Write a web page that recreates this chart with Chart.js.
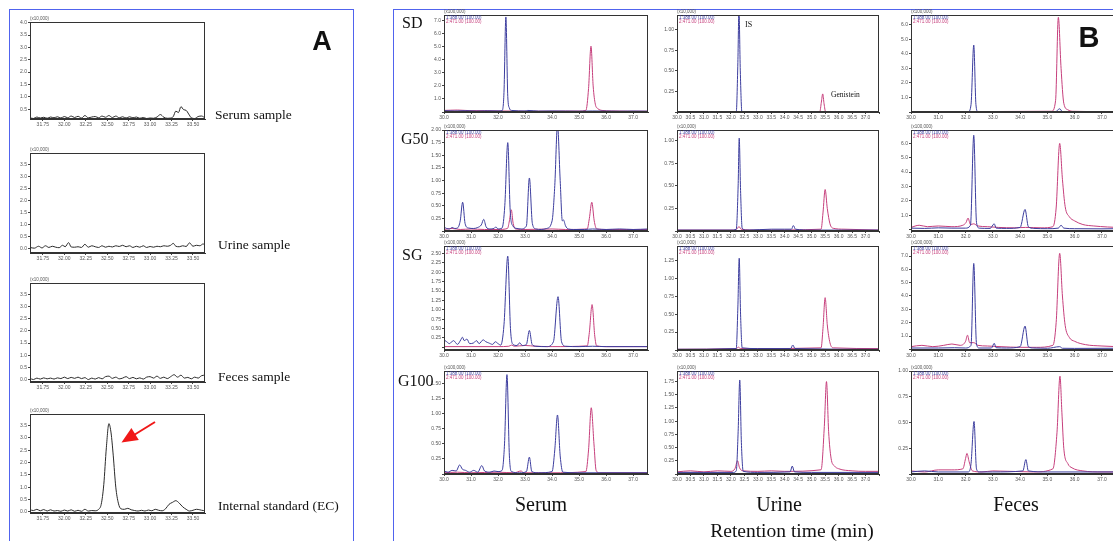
<!DOCTYPE html>
<html>
<head>
<meta charset="utf-8">
<script src="https://cdn.jsdelivr.net/npm/chart.js@4.4.0/dist/chart.umd.min.js"></script>
<style>
html, body { margin: 0; padding: 0; background: #fff; overflow: hidden; }
#wrap { position: relative; width: 1113px; height: 541px; overflow: hidden; }
#wrap canvas { position: absolute; }
.panel { position: absolute; border: 1.5px solid #5063ee; }
#notes { position: absolute; left: 0; top: 0; z-index: 5; }
</style>
</head>
<body>
<div id="wrap">
  <div class="panel" style="left:9px;top:9px;width:343px;height:600px"></div>
  <div class="panel" style="left:393px;top:9px;width:800px;height:600px"></div>
  <svg id="notes" width="1113" height="541"></svg>
</div>
<script>
// ---- panel A : blank matrices and internal standard (x10,000), time 31.60-33.64 min
var aLabels = ["Serum sample", "Urine sample", "Feces sample", "Internal standard (EC)"];
var aSerum = [[31.60,0.15],[31.64,0.12],[31.68,0.18],[31.72,0.14],[31.76,0.17],[31.80,0.13],[31.84,0.18],[31.88,0.15],[31.92,0.19],[31.96,0.14],[32.00,0.2],[32.04,0.15],[32.08,0.22],[32.12,0.16],[32.16,0.21],[32.20,0.14],[32.24,0.24],[32.28,0.15],[32.32,0.18],[32.36,0.2],[32.40,0.15],[32.44,0.22],[32.48,0.17],[32.52,0.24],[32.56,0.16],[32.60,0.22],[32.64,0.15],[32.68,0.19],[32.72,0.14],[32.76,0.19],[32.80,0.15],[32.84,0.18],[32.88,0.13],[32.92,0.16],[32.96,0.12],[33.00,0.14],[33.04,0.13],[33.08,0.18],[33.12,0.28],[33.16,0.17],[33.20,0.13],[33.24,0.14],[33.27,0.2],[33.30,0.42],[33.33,0.36],[33.36,0.6],[33.39,0.48],[33.42,0.45],[33.45,0.3],[33.48,0.15],[33.52,0.12],[33.56,0.2],[33.60,0.22],[33.64,0.14]];
var aUrine = [[31.60,0.05],[31.65,0.02],[31.70,0.1],[31.74,0.03],[31.78,0.12],[31.82,0.05],[31.86,0.1],[31.90,0.06],[31.94,0.04],[31.98,0.14],[32.01,0.08],[32.05,0.25],[32.08,0.07],[32.12,0.06],[32.16,0.08],[32.20,0.05],[32.24,0.18],[32.28,0.06],[32.32,0.12],[32.36,0.08],[32.40,0.05],[32.44,0.12],[32.48,0.06],[32.52,0.1],[32.56,0.07],[32.60,0.12],[32.64,0.09],[32.68,0.14],[32.72,0.08],[32.76,0.12],[32.80,0.05],[32.84,0.1],[32.88,0.06],[32.92,0.12],[32.96,0.05],[33.00,0.09],[33.04,0.06],[33.08,0.1],[33.12,0.08],[33.16,0.12],[33.20,0.1],[33.24,0.14],[33.27,0.22],[33.30,0.1],[33.34,0.08],[33.38,0.12],[33.42,0.09],[33.46,0.24],[33.50,0.1],[33.54,0.14],[33.58,0.12],[33.62,0.2],[33.64,0.12]];
var aFeces = [[31.60,0.05],[31.64,0.0],[31.68,0.06],[31.72,0.02],[31.76,0.07],[31.80,0.03],[31.84,0.06],[31.88,0.02],[31.92,0.07],[31.96,0.04],[32.00,0.1],[32.04,0.04],[32.08,0.09],[32.12,0.05],[32.16,0.1],[32.20,0.04],[32.24,0.08],[32.28,0.0],[32.32,0.06],[32.36,0.02],[32.40,0.08],[32.44,0.03],[32.48,0.12],[32.52,0.14],[32.56,0.05],[32.60,0.1],[32.64,0.03],[32.68,0.06],[32.72,0.12],[32.76,0.04],[32.80,0.09],[32.84,0.03],[32.88,0.07],[32.92,0.02],[32.96,0.1],[33.00,0.12],[33.04,0.06],[33.08,0.14],[33.12,0.05],[33.16,0.1],[33.20,0.04],[33.24,0.12],[33.28,0.2],[33.32,0.1],[33.36,0.18],[33.40,0.06],[33.44,0.09],[33.48,0.03],[33.52,0.1],[33.56,0.06],[33.60,0.16],[33.64,0.18]];
var aEC = [[31.60,0.08],[31.64,0.05],[31.68,0.1],[31.72,0.04],[31.76,0.09],[31.80,0.03],[31.84,0.08],[31.88,0.03],[31.92,0.05],[31.96,0.02],[32.00,0.07],[32.04,0.03],[32.08,0.08],[32.12,0.02],[32.16,0.06],[32.20,0.02],[32.24,0.1],[32.28,0.03],[32.32,0.05],[32.36,0.04],[32.40,0.1],[32.43,0.3],[32.46,1.1],[32.49,2.6],[32.52,3.58],[32.545,3.2],[32.57,2.3],[32.60,1.0],[32.63,0.35],[32.66,0.12],[32.70,0.1],[32.74,0.14],[32.78,0.08],[32.82,0.05],[32.86,0.03],[32.90,0.06],[32.94,0.03],[32.98,0.07],[33.02,0.04],[33.06,0.1],[33.10,0.06],[33.14,0.04],[33.18,0.12],[33.22,0.3],[33.26,0.38],[33.30,0.45],[33.34,0.35],[33.38,0.2],[33.42,0.1],[33.46,0.03],[33.50,0.06],[33.54,0.1],[33.58,0.08],[33.62,0.05],[33.64,0.06]];
var aYMin = [0.1, -0.18, -0.1, -0.05];
var aYMax = [4.03, 3.97, 3.97, 3.97];

// ---- panel B : groups x matrices, ion 1 (blue, IS) and ion 2 (pink, genistein), x100,000
var groups = ["SD", "G50", "SG", "G100"];
var matrices = ["Serum", "Urine", "Feces"];
var ionLegend = ["1:388.00 (100.00)", "2:471.00 (100.00)"];

var serumSD_1 = [[30.0,0.1],[30.4,0.08],[30.8,0.1],[31.2,0.07],[31.6,0.09],[32.0,0.08],[32.15,0.1],[32.22,1.5],[32.29,7.28],[32.36,1.2],[32.42,0.3],[32.5,0.12],[33.0,0.08],[33.1,0.12],[33.5,0.07],[34.0,0.08],[34.5,0.07],[35.0,0.06],[35.5,0.08],[36.0,0.07],[36.5,0.06],[37.0,0.07],[37.55,0.06]];
var serumSD_2 = [[30.0,0.12],[30.5,0.15],[31.0,0.1],[31.5,0.1],[32.0,0.08],[32.5,0.07],[33.0,0.06],[33.5,0.06],[34.0,0.06],[34.5,0.07],[35.0,0.07],[35.25,0.12],[35.35,1.8],[35.44,5.04],[35.52,2.0],[35.6,0.6],[35.7,0.25],[35.85,0.12],[36.2,0.08],[36.8,0.06],[37.55,0.06]];
var urineSD_1 = [[30.0,0],[32.2,0],[32.26,0.6],[32.3,1.25],[32.35,0.5],[32.41,0],[37.5,0]];
var urineSD_2 = [[30.0,0],[35.3,0],[35.36,0.12],[35.41,0.22],[35.46,0.1],[35.52,0],[37.5,0]];
var fecesSD_1 = [[30.0,0.03],[31.0,0.03],[32.1,0.03],[32.2,0.5],[32.3,4.6],[32.38,0.5],[32.45,0.03],[33.0,0.03],[35.3,0.03],[35.45,0.22],[35.55,0.03],[37.55,0.03]];
var fecesSD_2 = [[30.0,0.02],[35.15,0.05],[35.3,0.8],[35.4,6.5],[35.5,3.0],[35.6,0.6],[35.75,0.15],[35.9,0.05],[37.55,0.02]];

var serumG50_1 = [[30.0,0.08],[30.1,0.05],[30.2,0.04],[30.3,0.07],[30.4,0.05],[30.5,0.06],[30.6,0.2],[30.69,0.57],[30.78,0.15],[30.9,0.06],[31.1,0.05],[31.25,0.07],[31.38,0.12],[31.47,0.23],[31.56,0.08],[31.7,0.04],[31.85,0.05],[31.92,0.08],[32.0,0.04],[32.15,0.06],[32.25,0.5],[32.36,1.75],[32.45,0.4],[32.55,0.1],[32.7,0.05],[32.85,0.04],[33.05,0.1],[33.16,1.05],[33.27,0.15],[33.4,0.04],[33.6,0.03],[33.8,0.05],[34.0,0.2],[34.1,0.9],[34.2,2.1],[34.3,1.0],[34.38,0.2],[34.42,0.22],[34.5,0.1],[34.6,0.04],[34.8,0.03],[35.2,0.03],[35.5,0.04],[36.0,0.03],[36.5,0.04],[37.0,0.03],[37.55,0.04]];
var serumG50_2 = [[30.0,0.03],[30.3,0.05],[30.6,0.03],[31.0,0.04],[31.5,0.03],[32.0,0.03],[32.35,0.05],[32.42,0.2],[32.49,0.42],[32.56,0.15],[32.65,0.04],[33.0,0.03],[34.0,0.04],[34.5,0.03],[35.3,0.04],[35.38,0.25],[35.47,0.57],[35.56,0.2],[35.65,0.04],[36.0,0.03],[37.55,0.03]];
var urineG50_1 = [[30.0,0.01],[31.0,0.01],[32.0,0.01],[32.2,0.02],[32.27,0.5],[32.31,1.03],[32.36,0.45],[32.42,0.03],[32.6,0.01],[33.5,0.02],[34.0,0.02],[34.25,0.02],[34.32,0.06],[34.4,0.02],[35.0,0.01],[36.0,0.01],[37.5,0.01]];
var urineG50_2 = [[30.0,0.01],[32.1,0.01],[32.25,0.03],[32.3,0.05],[32.38,0.02],[33.0,0.01],[35.35,0.02],[35.42,0.2],[35.5,0.46],[35.58,0.25],[35.68,0.08],[35.8,0.03],[36.2,0.02],[37.5,0.01]];
var fecesG50_1 = [[30.0,0.1],[30.5,0.08],[31.0,0.12],[31.5,0.1],[32.0,0.1],[32.18,0.3],[32.3,6.56],[32.4,0.5],[32.5,0.1],[32.9,0.08],[33.05,0.4],[33.12,0.1],[33.5,0.08],[34.0,0.15],[34.18,1.4],[34.3,0.2],[34.5,0.08],[35.0,0.06],[35.4,0.1],[35.5,0.3],[35.6,0.1],[36.0,0.06],[37.0,0.05],[37.55,0.06]];
var fecesG50_2 = [[30.0,0.15],[30.3,0.3],[30.6,0.2],[31.0,0.25],[31.5,0.2],[31.9,0.3],[32.02,0.5],[32.09,0.8],[32.18,0.35],[32.3,0.4],[32.45,0.25],[32.8,0.2],[33.2,0.15],[33.8,0.12],[34.2,0.15],[34.8,0.12],[35.2,0.2],[35.32,1.5],[35.45,6.0],[35.55,3.5],[35.65,1.6],[35.8,0.9],[36.0,0.6],[36.3,0.35],[36.7,0.25],[37.2,0.18],[37.55,0.15]];

var serumSG_1 = [[30.0,0.2],[30.1,0.15],[30.2,0.1],[30.35,0.18],[30.5,0.08],[30.62,0.2],[30.68,0.27],[30.75,0.18],[30.85,0.22],[30.95,0.1],[31.1,0.12],[31.2,0.18],[31.3,0.1],[31.45,0.2],[31.55,0.15],[31.65,0.12],[31.8,0.08],[31.9,0.15],[32.0,0.1],[32.1,0.06],[32.22,0.6],[32.36,2.43],[32.46,0.5],[32.55,0.08],[32.7,0.05],[32.8,0.12],[32.9,0.05],[33.05,0.08],[33.16,0.45],[33.26,0.08],[33.4,0.03],[33.8,0.02],[34.05,0.15],[34.22,1.35],[34.35,0.15],[34.5,0.03],[35.0,0.02],[35.5,0.03],[36.0,0.02],[37.0,0.02],[37.55,0.02]];
var serumSG_2 = [[30.0,0.02],[31.0,0.02],[32.0,0.02],[32.4,0.03],[32.5,0.06],[32.6,0.03],[33.0,0.05],[33.4,0.03],[34.0,0.02],[35.3,0.04],[35.38,0.4],[35.48,1.14],[35.58,0.3],[35.65,0.04],[36.0,0.02],[37.55,0.02]];
var urineSG_1 = [[30.0,0.01],[32.2,0.02],[32.26,0.6],[32.31,1.28],[32.36,0.5],[32.42,0.03],[33.0,0.02],[34.22,0.02],[34.3,0.07],[34.38,0.02],[37.5,0.01]];
var urineSG_2 = [[30.0,0.01],[32.2,0.02],[32.28,0.04],[32.35,0.02],[33.0,0.02],[35.35,0.03],[35.42,0.3],[35.5,0.73],[35.58,0.35],[35.68,0.1],[35.8,0.03],[37.5,0.02]];
var fecesSG_1 = [[30.0,0.1],[31.0,0.1],[31.6,0.12],[32.0,0.1],[32.2,0.3],[32.3,6.44],[32.4,0.4],[32.5,0.1],[32.95,0.1],[33.05,0.45],[33.12,0.12],[33.5,0.1],[34.0,0.2],[34.18,1.74],[34.3,0.2],[34.5,0.1],[35.0,0.08],[35.45,0.2],[35.55,0.08],[36.0,0.07],[37.55,0.08]];
var fecesSG_2 = [[30.0,0.2],[30.4,0.3],[30.8,0.2],[31.2,0.3],[31.5,0.4],[31.8,0.3],[32.0,0.6],[32.07,1.06],[32.15,0.5],[32.3,0.5],[32.45,0.3],[32.8,0.25],[33.3,0.2],[34.0,0.15],[34.6,0.15],[35.2,0.3],[35.32,2.0],[35.45,7.2],[35.55,4.0],[35.65,1.8],[35.8,0.9],[36.0,0.6],[36.4,0.35],[37.0,0.25],[37.55,0.2]];

var serumG100_1 = [[30.0,0.05],[30.15,0.03],[30.3,0.06],[30.45,0.05],[30.58,0.15],[30.68,0.08],[30.8,0.06],[30.95,0.03],[31.1,0.06],[31.25,0.03],[31.4,0.14],[31.5,0.05],[31.7,0.03],[31.85,0.05],[32.0,0.04],[32.15,0.06],[32.24,0.5],[32.33,1.65],[32.42,0.3],[32.5,0.04],[32.8,0.02],[33.05,0.04],[33.16,0.28],[33.25,0.04],[33.5,0.02],[34.0,0.04],[34.1,0.4],[34.2,0.98],[34.3,0.3],[34.4,0.03],[35.0,0.02],[36.0,0.02],[37.55,0.02]];
var serumG100_2 = [[30.0,0.02],[30.5,0.03],[31.0,0.02],[32.0,0.03],[32.6,0.02],[32.85,0.05],[32.95,0.02],[34.0,0.02],[35.25,0.04],[35.35,0.4],[35.45,1.1],[35.55,0.5],[35.63,0.06],[35.75,0.02],[37.55,0.02]];
var urineG100_1 = [[30.0,0.03],[31.0,0.03],[32.1,0.03],[32.2,0.06],[32.27,0.8],[32.33,1.78],[32.39,0.6],[32.46,0.05],[33.0,0.03],[34.2,0.04],[34.28,0.15],[34.36,0.04],[35.0,0.03],[37.5,0.03]];
var urineG100_2 = [[30.0,0.04],[30.5,0.06],[31.0,0.04],[31.5,0.06],[32.0,0.05],[32.15,0.1],[32.25,0.25],[32.32,0.12],[32.45,0.06],[33.0,0.05],[33.5,0.06],[34.0,0.05],[35.35,0.08],[35.47,0.9],[35.55,1.75],[35.63,0.8],[35.72,0.3],[35.85,0.15],[36.0,0.1],[36.5,0.06],[37.0,0.05],[37.5,0.05]];
var fecesG100_1 = [[30.0,0.02],[30.5,0.03],[31.0,0.02],[32.1,0.02],[32.2,0.1],[32.31,0.51],[32.4,0.05],[32.5,0.02],[33.0,0.02],[34.1,0.03],[34.21,0.14],[34.3,0.03],[35.0,0.02],[37.55,0.02]];
var fecesG100_2 = [[30.0,0.03],[30.5,0.02],[31.0,0.04],[31.5,0.04],[31.9,0.05],[32.0,0.15],[32.05,0.2],[32.13,0.12],[32.25,0.03],[32.6,0.02],[33.0,0.03],[34.5,0.02],[35.2,0.05],[35.35,0.4],[35.46,0.95],[35.53,0.6],[35.6,0.25],[35.75,0.1],[35.9,0.06],[36.3,0.03],[37.0,0.02],[37.55,0.02]];

var bYMin = [[0, 0, 0], [0, 0, -0.1], [-0.07, 0, -0.05], [0, 0, 0]];
var bYMax = [[7.43, 1.18, 6.66], [2.0, 1.12, 6.93], [2.7, 1.45, 7.75], [1.71, 1.95, 1.0]];
var bYStep = [[1, 0.25, 1], [0.25, 0.25, 1], [0.25, 0.25, 1], [0.25, 0.25, 0.25]];

var BLUE = "#3c3d9e", PINK = "#c63f7c", BLACK = "#2a2a2a";
var wrap = document.getElementById("wrap");

var framePlugin = {
  id: "frame",
  afterDatasetsDraw: function (chart, args, o) {
    var ctx = chart.ctx, a = chart.chartArea;
    ctx.save();
    ctx.strokeStyle = "#333";
    ctx.lineWidth = 1;
    ctx.strokeRect(a.left + 0.5, a.top + 0.5, a.right - a.left - 1, a.bottom - a.top - 1);
    ctx.font = '4.5px "Liberation Sans"';
    ctx.textBaseline = "bottom";
    ctx.fillStyle = "#555";
    ctx.fillText(o.unit, a.left, a.top - 0.5);
    (o.lines || []).forEach(function (l, i) {
      ctx.fillStyle = l[1];
      ctx.fillText(l[0], a.left + 2, a.top + 5 + i * 3.6);
    });
    ctx.restore();
  }
};

// box = plot area [left, top, right, bottom] in page pixels
function addChart(box, xr, xStep, xDec, yr, yStep, yDec, sets, extra) {
  var W = extra.axisW, H = 12, padT = 7, padR = 2;
  var cv = document.createElement("canvas");
  cv.width = box[2] - box[0] + W + padR;
  cv.height = box[3] - box[1] + padT + H;
  cv.style.left = (box[0] - W) + "px";
  cv.style.top = (box[1] - padT) + "px";
  wrap.appendChild(cv);
  var tickFont = { family: "Liberation Sans", size: 5 };
  new Chart(cv, {
    type: "line",
    data: {
      datasets: sets.map(function (s) {
        return {
          data: s[0].map(function (p) { return { x: p[0], y: p[1] }; }),
          borderColor: s[1], borderWidth: 1, pointRadius: 0,
          cubicInterpolationMode: "monotone", fill: false
        };
      })
    },
    options: {
      responsive: false, animation: false, events: [],
      layout: { padding: { top: padT, right: padR, left: 0, bottom: 0 } },
      plugins: { legend: { display: false }, tooltip: { enabled: false },
        frame: { unit: extra.unit, lines: extra.lines } },
      scales: {
        x: {
          type: "linear", min: xr[0], max: xr[1],
          afterFit: function (s) { s.height = H; },
          border: { color: "#333" },
          grid: { drawOnChartArea: false, tickLength: 2, color: "#444" },
          ticks: { stepSize: xStep, includeBounds: false, autoSkip: false, maxRotation: 0,
            padding: 1, font: tickFont, color: "#555",
            callback: function (v) { return v > extra.xLast + 1e-6 ? "" : v.toFixed(xDec); } }
        },
        y: {
          min: yr[0], max: yr[1],
          afterFit: function (s) { s.width = W; },
          border: { color: "#333" },
          grid: { drawOnChartArea: false, tickLength: 2, color: "#444" },
          ticks: { stepSize: yStep, includeBounds: false, autoSkip: false, padding: 1,
            font: tickFont, color: "#555",
            callback: function (v) { return (v < 1e-6 && !extra.zero) ? "" : v.toFixed(yDec); } }
        }
      }
    },
    plugins: [framePlugin]
  });
}

// panel A
var aData = [aSerum, aUrine, aFeces, aEC];
var aTop = [22, 153, 283, 414], aBottom = [119, 253, 382, 513];
aData.forEach(function (d, i) {
  addChart([30, aTop[i], 205, aBottom[i]], [31.6, 33.64], 0.25, 2, [aYMin[i], aYMax[i]], 0.5, 1,
    [[d, BLACK]], { axisW: 22, unit: "(x10,000)", xLast: 33.5, zero: i > 0 });
});

// panel B
var bData = [
  [[serumSD_1, serumSD_2], [urineSD_1, urineSD_2], [fecesSD_1, fecesSD_2]],
  [[serumG50_1, serumG50_2], [urineG50_1, urineG50_2], [fecesG50_1, fecesG50_2]],
  [[serumSG_1, serumSG_2], [urineSG_1, urineSG_2], [fecesSG_1, fecesSG_2]],
  [[serumG100_1, serumG100_2], [urineG100_1, urineG100_2], [fecesG100_1, fecesG100_2]]
];
var rowTop = [15, 130, 246, 371], rowBottom = [112, 231, 350, 474];
var colL = [444, 677, 911], colR = [648, 879, 1117], colW = [17, 13, 15];
var colXMax = [37.55, 37.5, 37.55], colXStep = [1, 0.5, 1];
bData.forEach(function (row, r) {
  row.forEach(function (cell, c) {
    addChart([colL[c], rowTop[r], colR[c], rowBottom[r]], [30, colXMax[c]], colXStep[c], 1,
      [bYMin[r][c], bYMax[r][c]], bYStep[r][c], bYStep[r][c] < 1 ? 2 : 1,
      [[cell[0], BLUE], [cell[1], PINK]],
      { axisW: colW[c], unit: c === 1 ? "(x10,000)" : "(x100,000)", xLast: 37.0, zero: false,
        lines: [[ionLegend[0], BLUE], [ionLegend[1], PINK]] });
  });
});

// text and arrow overlay
var svg = document.getElementById("notes");
var NS = "http://www.w3.org/2000/svg";
function txt(s, x, y, size, opts) {
  var t = document.createElementNS(NS, "text");
  t.textContent = s;
  t.setAttribute("x", x); t.setAttribute("y", y);
  t.setAttribute("font-size", size);
  t.setAttribute("font-family", (opts && opts.sans) ? "Liberation Sans" : "Liberation Serif");
  if (opts && opts.bold) t.setAttribute("font-weight", "bold");
  if (opts && opts.mid) t.setAttribute("text-anchor", "middle");
  t.setAttribute("fill", "#111");
  svg.appendChild(t);
}
txt("A", 322, 50, 27, { sans: true, bold: true, mid: true });
txt("B", 1089, 47, 29, { sans: true, bold: true, mid: true });
var aTextY = [119, 249, 381, 510], aTextX = [215, 218, 218, 218];
aLabels.forEach(function (s, i) { txt(s, aTextX[i], aTextY[i], 13.5); });
var gY = [28, 144, 260, 386], gX = [402, 401, 402, 398];
groups.forEach(function (s, i) { txt(s, gX[i], gY[i], 16); });
var mX = [541, 779, 1016];
matrices.forEach(function (s, i) { txt(s, mX[i], 511, 20, { mid: true }); });
txt("Retention time (min)", 792, 537, 19.5, { mid: true });
txt("IS", 745, 27, 8);
txt("Genistein", 831, 97, 7.5);

var line = document.createElementNS(NS, "line");
line.setAttribute("x1", 155); line.setAttribute("y1", 422);
line.setAttribute("x2", 134); line.setAttribute("y2", 435);
line.setAttribute("stroke", "#f01818"); line.setAttribute("stroke-width", 2);
svg.appendChild(line);
var head = document.createElementNS(NS, "polygon");
head.setAttribute("points", "121.5,442.5 131.4,428.1 138.8,440.1");
head.setAttribute("fill", "#f01818");
svg.appendChild(head);
</script>
</body>
</html>
